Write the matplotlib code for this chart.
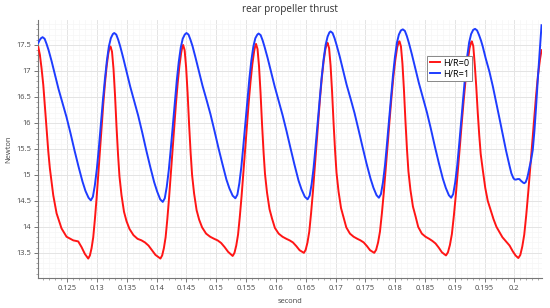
import matplotlib
matplotlib.use('Agg')
import matplotlib.pyplot as plt
from matplotlib.ticker import MultipleLocator, FormatStrFormatter
import numpy as np

plt.rcParams['font.family'] = ['Open Sans', 'DejaVu Sans']

title = 'rear propeller thrust'
xlabel = 'second'
ylabel = 'Newton'
labels = ['H/R=0', 'H/R=1']

# (time, thrust)
red_curve = [
    (0.12014, 17.46), (0.12041, 17.31), (0.12069, 17.05), (0.12098, 16.73), (0.12125, 16.32),
    (0.12153, 15.90), (0.12182, 15.45), (0.12208, 15.13), (0.12265, 14.61), (0.12321, 14.26),
    (0.12404, 13.97), (0.12488, 13.81), (0.12601, 13.74), (0.12684, 13.72), (0.12740, 13.61),
    (0.12795, 13.48), (0.12852, 13.39),
    (0.12880, 13.45), (0.12908, 13.59), (0.12936, 13.80), (0.12964, 14.15), (0.12992, 14.55),
    (0.13020, 15.00), (0.13048, 15.45), (0.13076, 15.92), (0.13104, 16.36), (0.13132, 16.75),
    (0.13160, 17.08), (0.13188, 17.33), (0.13208, 17.44), (0.13226, 17.47),
    (0.13251, 17.37), (0.13276, 17.04), (0.13301, 16.54), (0.13326, 15.94), (0.13352, 15.39),
    (0.13376, 14.97), (0.13410, 14.61), (0.13452, 14.29), (0.13494, 14.11), (0.13544, 13.96),
    (0.13611, 13.84), (0.13679, 13.77), (0.13746, 13.74), (0.13804, 13.70), (0.13863, 13.64),
    (0.13922, 13.55), (0.13980, 13.46), (0.14063, 13.39),
    (0.14092, 13.45), (0.14121, 13.59), (0.14150, 13.80), (0.14179, 14.15), (0.14208, 14.56),
    (0.14237, 15.01), (0.14266, 15.47), (0.14295, 15.94), (0.14324, 16.38), (0.14353, 16.77),
    (0.14382, 17.10), (0.14411, 17.35), (0.14430, 17.46), (0.14444, 17.50),
    (0.14469, 17.40), (0.14494, 17.07), (0.14519, 16.57), (0.14544, 15.97), (0.14570, 15.42),
    (0.14594, 15.00), (0.14628, 14.64), (0.14670, 14.32), (0.14712, 14.14), (0.14762, 13.99),
    (0.14829, 13.87), (0.14897, 13.81), (0.14964, 13.77), (0.15022, 13.74), (0.15081, 13.69),
    (0.15140, 13.61), (0.15198, 13.52), (0.15275, 13.44),
    (0.15305, 13.50), (0.15335, 13.64), (0.15365, 13.85), (0.15395, 14.20), (0.15425, 14.60),
    (0.15455, 15.05), (0.15485, 15.50), (0.15515, 15.97), (0.15545, 16.41), (0.15575, 16.80),
    (0.15605, 17.13), (0.15635, 17.38), (0.15655, 17.49), (0.15667, 17.52),
    (0.15692, 17.42), (0.15717, 17.09), (0.15742, 16.59), (0.15767, 15.99), (0.15793, 15.44),
    (0.15817, 15.02), (0.15851, 14.66), (0.15893, 14.34), (0.15935, 14.16), (0.15983, 13.98),
    (0.16046, 13.87), (0.16111, 13.81), (0.16175, 13.77), (0.16230, 13.74), (0.16286, 13.70),
    (0.16342, 13.63), (0.16398, 13.55), (0.16470, 13.50),
    (0.16500, 13.56), (0.16530, 13.70), (0.16560, 13.91), (0.16590, 14.26), (0.16620, 14.66),
    (0.16650, 15.11), (0.16680, 15.56), (0.16710, 16.03), (0.16740, 16.47), (0.16770, 16.86),
    (0.16800, 17.18), (0.16830, 17.42), (0.16852, 17.51), (0.16867, 17.54),
    (0.16892, 17.44), (0.16917, 17.11), (0.16942, 16.61), (0.16967, 16.01), (0.16993, 15.46),
    (0.17017, 15.04), (0.17051, 14.68), (0.17093, 14.36), (0.17135, 14.18), (0.17181, 13.99),
    (0.17242, 13.87), (0.17304, 13.81), (0.17366, 13.77), (0.17419, 13.74), (0.17473, 13.70),
    (0.17527, 13.63), (0.17580, 13.55), (0.17650, 13.50),
    (0.17682, 13.56), (0.17714, 13.70), (0.17746, 13.91), (0.17778, 14.26), (0.17810, 14.66),
    (0.17842, 15.11), (0.17874, 15.57), (0.17906, 16.04), (0.17938, 16.48), (0.17970, 16.88),
    (0.18002, 17.20), (0.18034, 17.45), (0.18056, 17.54), (0.18073, 17.57),
    (0.18098, 17.47), (0.18123, 17.14), (0.18148, 16.64), (0.18173, 16.04), (0.18199, 15.49),
    (0.18223, 15.07), (0.18257, 14.71), (0.18299, 14.39), (0.18341, 14.21), (0.18387, 14.00),
    (0.18448, 13.87), (0.18510, 13.81), (0.18571, 13.77), (0.18624, 13.73), (0.18678, 13.68),
    (0.18732, 13.60), (0.18785, 13.51), (0.18853, 13.45),
    (0.18886, 13.51), (0.18919, 13.65), (0.18952, 13.86), (0.18985, 14.21), (0.19018, 14.61),
    (0.19051, 15.06), (0.19084, 15.52), (0.19117, 15.99), (0.19150, 16.43), (0.19183, 16.84),
    (0.19216, 17.17), (0.19249, 17.44), (0.19272, 17.54), (0.19286, 17.57),
    (0.19311, 17.48), (0.19336, 17.12), (0.19361, 16.70), (0.19386, 16.20), (0.19412, 15.75),
    (0.19436, 15.40), (0.19470, 15.10), (0.19512, 14.75), (0.19554, 14.50), (0.19600, 14.33),
    (0.19650, 14.15), (0.19700, 14.00), (0.19750, 13.90), (0.19800, 13.80), (0.19861, 13.72),
    (0.19920, 13.64), (0.19973, 13.53), (0.20020, 13.45), (0.20067, 13.40),
    (0.20100, 13.46), (0.20133, 13.62), (0.20166, 13.85), (0.20199, 14.22), (0.20232, 14.65),
    (0.20265, 15.12), (0.20298, 15.60), (0.20331, 16.08), (0.20364, 16.52), (0.20397, 16.92),
    (0.20430, 17.22), (0.20456, 17.40),
]

blue_curve = [
    (0.12014, 17.54), (0.12035, 17.59), (0.12060, 17.63), (0.12086, 17.65),
    (0.12120, 17.62), (0.12153, 17.52), (0.12187, 17.40), (0.12237, 17.19), (0.12295, 16.92),
    (0.12354, 16.65), (0.12421, 16.38), (0.12488, 16.11), (0.12555, 15.80), (0.12622, 15.47),
    (0.12689, 15.16), (0.12756, 14.87), (0.12806, 14.69), (0.12857, 14.56), (0.12896, 14.51),
    (0.12930, 14.58), (0.12963, 14.80), (0.12997, 15.12), (0.13030, 15.52), (0.13064, 15.97),
    (0.13097, 16.42), (0.13131, 16.83), (0.13164, 17.19), (0.13198, 17.47), (0.13231, 17.63),
    (0.13265, 17.71), (0.13288, 17.73),
    (0.13322, 17.70), (0.13355, 17.60), (0.13389, 17.47), (0.13439, 17.25), (0.13497, 16.98),
    (0.13556, 16.70), (0.13623, 16.42), (0.13690, 16.14), (0.13757, 15.82), (0.13824, 15.48),
    (0.13891, 15.16), (0.13958, 14.86), (0.14008, 14.68), (0.14059, 14.53), (0.14102, 14.48),
    (0.14136, 14.55), (0.14169, 14.77), (0.14203, 15.09), (0.14236, 15.49), (0.14270, 15.94),
    (0.14303, 16.39), (0.14337, 16.81), (0.14370, 17.17), (0.14404, 17.45), (0.14437, 17.62),
    (0.14471, 17.70), (0.14500, 17.73),
    (0.14534, 17.70), (0.14567, 17.60), (0.14601, 17.48), (0.14651, 17.26), (0.14709, 16.99),
    (0.14768, 16.72), (0.14835, 16.45), (0.14902, 16.17), (0.14969, 15.85), (0.15036, 15.52),
    (0.15103, 15.21), (0.15170, 14.91), (0.15220, 14.74), (0.15275, 14.60), (0.15320, 14.55),
    (0.15354, 14.62), (0.15387, 14.84), (0.15421, 15.16), (0.15454, 15.56), (0.15488, 16.00),
    (0.15521, 16.44), (0.15555, 16.85), (0.15588, 17.20), (0.15622, 17.47), (0.15655, 17.63),
    (0.15689, 17.70), (0.15710, 17.72),
    (0.15744, 17.69), (0.15777, 17.59), (0.15811, 17.46), (0.15861, 17.25), (0.15919, 16.98),
    (0.15978, 16.71), (0.16045, 16.43), (0.16112, 16.15), (0.16179, 15.84), (0.16246, 15.51),
    (0.16313, 15.19), (0.16380, 14.89), (0.16430, 14.72), (0.16485, 14.58), (0.16532, 14.53),
    (0.16566, 14.60), (0.16599, 14.82), (0.16633, 15.14), (0.16666, 15.55), (0.16700, 16.00),
    (0.16733, 16.45), (0.16767, 16.87), (0.16800, 17.22), (0.16834, 17.50), (0.16867, 17.66),
    (0.16897, 17.74), (0.16917, 17.76),
    (0.16951, 17.73), (0.16984, 17.63), (0.17018, 17.50), (0.17068, 17.29), (0.17126, 17.02),
    (0.17185, 16.74), (0.17252, 16.47), (0.17319, 16.19), (0.17386, 15.87), (0.17453, 15.54),
    (0.17520, 15.22), (0.17587, 14.93), (0.17637, 14.75), (0.17688, 14.61), (0.17728, 14.56),
    (0.17762, 14.63), (0.17795, 14.85), (0.17829, 15.17), (0.17862, 15.58), (0.17896, 16.03),
    (0.17929, 16.48), (0.17963, 16.90), (0.17996, 17.26), (0.18030, 17.54), (0.18063, 17.70),
    (0.18097, 17.78), (0.18130, 17.80),
    (0.18164, 17.77), (0.18197, 17.67), (0.18231, 17.54), (0.18281, 17.32), (0.18339, 17.05),
    (0.18398, 16.77), (0.18465, 16.49), (0.18532, 16.21), (0.18599, 15.89), (0.18666, 15.55),
    (0.18733, 15.23), (0.18800, 14.93), (0.18850, 14.75), (0.18901, 14.61), (0.18940, 14.56),
    (0.18974, 14.63), (0.19007, 14.85), (0.19041, 15.17), (0.19074, 15.58), (0.19108, 16.03),
    (0.19141, 16.48), (0.19175, 16.91), (0.19208, 17.27), (0.19242, 17.55), (0.19275, 17.71),
    (0.19309, 17.79), (0.19341, 17.81),
    (0.19375, 17.78), (0.19408, 17.69), (0.19442, 17.58), (0.19470, 17.47), (0.19520, 17.24),
    (0.19581, 16.99), (0.19640, 16.70), (0.19693, 16.41), (0.19750, 16.09), (0.19806, 15.77),
    (0.19860, 15.47), (0.19916, 15.19), (0.19950, 15.03), (0.19983, 14.94), (0.20005, 14.91),
    (0.20028, 14.91), (0.20056, 14.92), (0.20084, 14.92), (0.20108, 14.89), (0.20129, 14.87),
    (0.20148, 14.85), (0.20167, 14.84), (0.20190, 14.86), (0.20213, 14.93), (0.20232, 15.02),
    (0.20251, 15.13), (0.20280, 15.28), (0.20309, 15.48), (0.20337, 15.85), (0.20364, 16.30),
    (0.20392, 16.82), (0.20415, 17.20), (0.20435, 17.50), (0.20456, 17.88),
]

red_t, red_v = zip(*red_curve)
blue_t, blue_v = zip(*blue_curve)

fig = plt.figure(figsize=(5.5, 3.08), dpi=100)
ax = fig.add_axes([0.0696, 0.0964, 0.915, 0.8386])

ax.plot(red_t, red_v, color='#ff1515', lw=1.4, label=labels[0], zorder=3)
ax.plot(blue_t, blue_v, color='#1e3cff', lw=1.4, label=labels[1], zorder=3)

ax.set_xlim(0.12014, 0.20456)
ax.set_ylim(13.01, 17.98)

ax.xaxis.set_major_locator(MultipleLocator(0.005))
ax.xaxis.set_minor_locator(MultipleLocator(0.001))
ax.yaxis.set_major_locator(MultipleLocator(0.5))
ax.yaxis.set_minor_locator(MultipleLocator(0.1))
ax.xaxis.set_major_formatter(FormatStrFormatter('%g'))
ax.yaxis.set_major_formatter(FormatStrFormatter('%g'))

ax.grid(which='major', color='#e4e4e4', lw=0.7)
ax.grid(which='minor', color='#f6f6f6', lw=0.5)
ax.set_axisbelow(True)

for s in ['top', 'right']:
    ax.spines[s].set_visible(False)
for s in ['left', 'bottom']:
    ax.spines[s].set_color('#777777')
    ax.spines[s].set_linewidth(0.8)

ax.tick_params(which='major', length=3, width=0.7, color='#777777',
               labelsize=5.4, labelcolor='#444444', pad=2)
ax.tick_params(which='minor', length=1.5, width=0.5, color='#888888')

ax.set_title(title, fontsize=7.2, color='#333333', pad=6)
ax.set_xlabel(xlabel, fontsize=5.4, color='#444444', labelpad=4)
ax.set_ylabel(ylabel, fontsize=5.4, color='#444444', labelpad=3)

leg = ax.legend(loc='upper left', bbox_to_anchor=(0.773, 0.861), borderaxespad=0,
                fancybox=False, framealpha=1, edgecolor='#888888', fontsize=6.6,
                handlelength=1.1, handletextpad=0.3, borderpad=0.3, labelspacing=0.2)
leg.get_frame().set_linewidth(0.7)

fig.savefig('out.png', dpi=100)
